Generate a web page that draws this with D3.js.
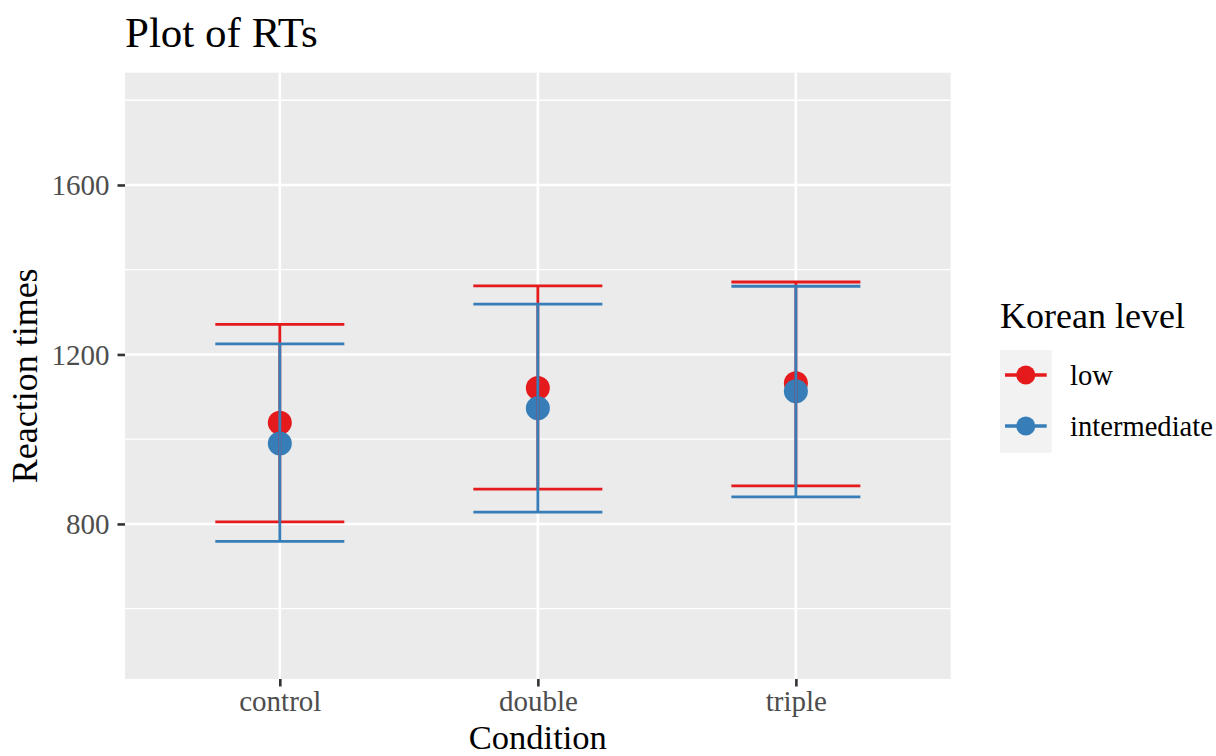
<!DOCTYPE html>
<html><head><meta charset="utf-8">
<script src="https://cdn.jsdelivr.net/npm/d3@7"></script>
<style>body{margin:0;background:#fff}text{font-family:"Liberation Serif","Times New Roman",serif}</style>
</head><body><svg id="chart" width="1216" height="756"></svg>
<script>
const categories = ["control", "double", "triple"];
const groups = ["low", "intermediate"];
const means = { low: [1039, 1121, 1132], intermediate: [990, 1073, 1113] };
const lower = { low: [805, 882, 890], intermediate: [759, 828, 864] };
const upper = { low: [1271, 1362, 1371], intermediate: [1225, 1319, 1361] };
const yTicks = [800, 1200, 1600];
const yMinor = [600, 1000, 1400, 1800];
const colors = { low: "#E41A1C", intermediate: "#377EB8" };

const svg = d3.select("#chart");
const L = 125, R = 950.7, T = 72.7, B = 679;
const x = d3.scalePoint().domain(categories).range([L, R]).padding(0.6);
const step = x.step();
const y = d3.scaleLinear().domain([434, 1865]).range([B, T]);

svg.append("rect").attr("x", L).attr("y", T).attr("width", R - L).attr("height", B - T).attr("fill", "#ebebeb");
const g = svg.append("g");
g.selectAll(".minor").data(yMinor).join("line")
  .attr("x1", L).attr("x2", R).attr("y1", d => y(d)).attr("y2", d => y(d))
  .attr("stroke", "#fff").attr("stroke-width", 1.3);
g.selectAll(".major").data(yTicks).join("line")
  .attr("x1", L).attr("x2", R).attr("y1", d => y(d)).attr("y2", d => y(d))
  .attr("stroke", "#fff").attr("stroke-width", 2.6);
g.selectAll(".vmajor").data(categories).join("line")
  .attr("x1", d => x(d)).attr("x2", d => x(d)).attr("y1", T).attr("y2", B)
  .attr("stroke", "#fff").attr("stroke-width", 2.6);

// points
groups.forEach(gr => {
  svg.append("g").selectAll("circle").data(categories).join("circle")
    .attr("cx", d => x(d)).attr("cy", (d, i) => y(means[gr][i])).attr("r", 12)
    .attr("fill", colors[gr]);
});
// error bars
const hw = step * 0.25;
groups.forEach(gr => {
  const eg = svg.append("g").attr("stroke", colors[gr]).attr("stroke-width", 2.8).attr("fill", "none");
  categories.forEach((c, i) => {
    const cx = x(c);
    eg.append("path").attr("d",
      `M${cx - hw},${y(upper[gr][i])}H${cx + hw}M${cx},${y(upper[gr][i])}V${y(lower[gr][i])}M${cx - hw},${y(lower[gr][i])}H${cx + hw}`);
  });
});

// y axis
const yAxis = d3.axisLeft(y).tickValues(yTicks).tickFormat(d3.format("d")).tickSize(7.5).tickPadding(8);
const ya = svg.append("g").attr("transform", `translate(${L},0)`).call(yAxis);
ya.select(".domain").remove();
ya.selectAll(".tick line").attr("stroke", "#333").attr("stroke-width", 2.6);
ya.selectAll(".tick text").attr("fill", "#4d4d4d").style("font-size", "29px")
  .style("font-family", '"Liberation Serif", serif').attr("dy", "0.34em");

// x axis
const xAxis = d3.axisBottom(x).tickSize(7.5).tickPadding(8);
const xa = svg.append("g").attr("transform", `translate(0,${B})`).call(xAxis);
xa.select(".domain").remove();
xa.selectAll(".tick line").attr("stroke", "#333").attr("stroke-width", 2.6);
xa.selectAll(".tick text").attr("fill", "#4d4d4d").style("font-size", "29px")
  .style("font-family", '"Liberation Serif", serif').attr("dy", null).attr("y", 32);

// titles
svg.append("text").attr("x", 125).attr("y", 47).attr("font-size", 43).attr("fill", "#000").text("Plot of RTs");
svg.append("text").attr("x", (L + R) / 2).attr("y", 748.5).attr("text-anchor", "middle").attr("font-size", 34.5).text("Condition");
svg.append("text").attr("transform", `translate(37,${(T + B) / 2}) rotate(-90)`).attr("text-anchor", "middle")
  .attr("font-size", 36).text("Reaction times");

// legend
const lg = svg.append("g");
lg.append("text").attr("x", 1000).attr("y", 328).attr("font-size", 36).text("Korean level");
lg.append("rect").attr("x", 1000).attr("y", 350).attr("width", 51.7).attr("height", 102.7).attr("fill", "#f2f2f2");
const legY = [375, 426];
groups.forEach((gr, i) => {
  lg.append("line").attr("x1", 1005).attr("x2", 1046.7).attr("y1", legY[i]).attr("y2", legY[i])
    .attr("stroke", colors[gr]).attr("stroke-width", 3.5);
  lg.append("circle").attr("cx", 1025.8).attr("cy", legY[i]).attr("r", 9.5).attr("fill", colors[gr]);
  lg.append("text").attr("x", 1070).attr("y", legY[i] + 10).attr("font-size", 28.6).text(gr);
});
</script></body></html>
